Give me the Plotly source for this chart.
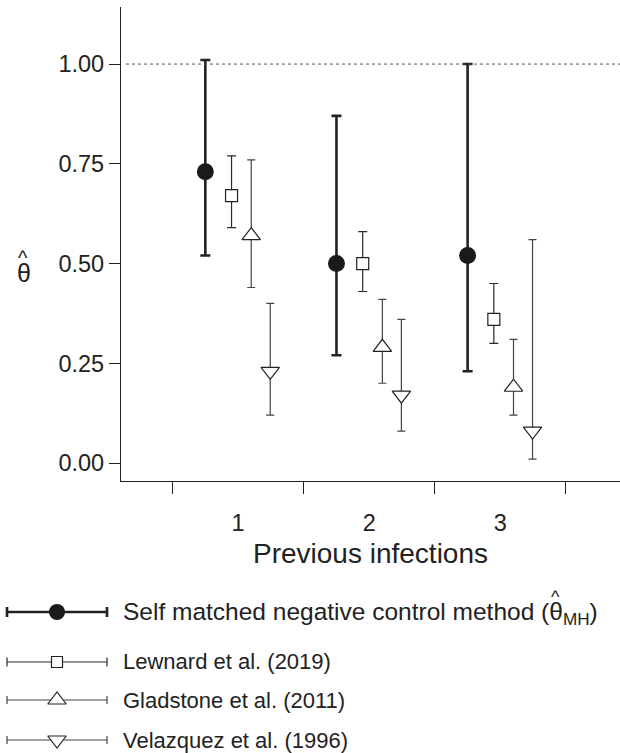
import plotly.graph_objects as go

# ---------------- data ----------------
categories = [1, 2, 3]
x_labels = ["1", "2", "3"]
series_names = [
    "Self matched negative control method",
    "Lewnard et al. (2019)",
    "Gladstone et al. (2011)",
    "Velazquez et al. (1996)",
]
self_est = [0.73, 0.50, 0.52]
self_lo = [0.52, 0.27, 0.23]
self_hi = [1.01, 0.87, 1.00]

lewnard_est = [0.67, 0.50, 0.36]
lewnard_lo = [0.59, 0.43, 0.30]
lewnard_hi = [0.77, 0.58, 0.45]

gladstone_est = [0.57, 0.29, 0.19]
gladstone_lo = [0.44, 0.20, 0.12]
gladstone_hi = [0.76, 0.41, 0.31]

velazquez_est = [0.23, 0.17, 0.08]
velazquez_lo = [0.12, 0.08, 0.01]
velazquez_hi = [0.40, 0.36, 0.56]

y_ticks = [0.0, 0.25, 0.50, 0.75, 1.00]
reference_line = 1.0

# ---------------- styles ----------------
FONT = "Liberation Sans, Arial, Helvetica, sans-serif"
INK = "#222222"
W, H = 620, 753
offsets = [-0.25, -0.05, 0.10, 0.245]
styles = [
    dict(symbol="circle", size=17, color="#1a1a1a", lw=0, thick=2.6, cap=5, ecol="#222222", lsize=16),
    dict(symbol="square", size=12, color="white", lw=1.2, thick=1.2, cap=4.5, ecol="#2a2a2a", lsize=11),
    dict(symbol="triangle-up", size=16, color="white", lw=1.2, thick=1.2, cap=4, ecol="#444444", lsize=16),
    dict(symbol="triangle-down", size=16, color="white", lw=1.2, thick=1.2, cap=4, ecol="#444444", lsize=16),
]
all_series = [
    (self_est, self_lo, self_hi),
    (lewnard_est, lewnard_lo, lewnard_hi),
    (gladstone_est, gladstone_lo, gladstone_hi),
    (velazquez_est, velazquez_lo, velazquez_hi),
]

# plot area in pixels
PL, PR, PT, PB = 121, 620, 7, 481
dom_x = [PL / W, PR / W]
dom_y = [(H - PB) / H, (H - PT) / H]


def py(p):
    """pixel row -> paper y"""
    return (H - p) / H


fig = go.Figure()

for (est, lo, hi), st, off, name in zip(all_series, styles, offsets, series_names):
    fig.add_trace(go.Scatter(
        x=[c + off for c in categories], y=est, mode="markers", name=name,
        marker=dict(symbol=st["symbol"], size=st["size"], color=st["color"],
                    line=dict(color=INK, width=st["lw"])),
        error_y=dict(type="data", symmetric=False,
                     array=[h - e for h, e in zip(hi, est)],
                     arrayminus=[e - l for e, l in zip(est, lo)],
                     thickness=st["thick"], width=st["cap"], color=st["ecol"]),
        xaxis="x", yaxis="y", showlegend=False, cliponaxis=False,
    ))

# ---------------- hand-made legend (pixel-scaled helper axes) ----------------
legend_row_y = [612, 662, 700, 740]
legend_text_y = [613, 661, 700, 740]
legend_font = [24.5, 22, 22, 22]
sample_cx, sample_half = 57, 50
for i, st in enumerate(styles):
    fig.add_trace(go.Scatter(
        x=[sample_cx], y=[legend_row_y[i]], mode="markers",
        marker=dict(symbol=st["symbol"], size=st["lsize"], color=st["color"],
                    line=dict(color=INK, width=st["lw"])),
        error_x=dict(type="constant", value=sample_half, thickness=st["thick"],
                     width=st["cap"], color=st["ecol"]),
        xaxis="x2", yaxis="y2", showlegend=False, cliponaxis=False,
    ))

legend_labels = [
    "Self matched negative control method (θ<sub>MH</sub>)",
    series_names[1], series_names[2], series_names[3],
]
annotations = []
for i, lab in enumerate(legend_labels):
    annotations.append(dict(
        x=121 / W, y=py(legend_text_y[i]), xref="paper", yref="paper", text=lab,
        showarrow=False, xanchor="left", yanchor="middle",
        font=dict(family=FONT, size=legend_font[i], color=INK)))
# hat over theta in legend
annotations.append(dict(x=555 / W, y=py(597), xref="paper", yref="paper", text="^",
                        showarrow=False, xanchor="center", yanchor="middle",
                        font=dict(family=FONT, size=18, color=INK)))
# y-axis title: theta-hat
annotations.append(dict(x=24 / W, y=py(273), xref="paper", yref="paper", text="θ",
                        showarrow=False, xanchor="center", yanchor="middle",
                        font=dict(family=FONT, size=25, color=INK)))
annotations.append(dict(x=23 / W, y=py(258), xref="paper", yref="paper", text="^",
                        showarrow=False, xanchor="center", yanchor="middle",
                        font=dict(family=FONT, size=20, color=INK)))
# x-axis title
annotations.append(dict(x=((PL + PR) / 2) / W, y=py(553), xref="paper", yref="paper",
                        text="Previous infections", showarrow=False,
                        xanchor="center", yanchor="middle",
                        font=dict(family=FONT, size=28, color=INK)))

fig.update_layout(
    width=W, height=H,
    margin=dict(l=0, r=0, t=0, b=0),
    paper_bgcolor="white", plot_bgcolor="white",
    showlegend=False,
    xaxis=dict(domain=dom_x, range=[0.107, 3.912], tickvals=categories, ticktext=x_labels,
               ticks="outside", ticklen=21, tickcolor="rgba(0,0,0,0)",
               minor=dict(tickvals=[c - 0.5 for c in categories] + [categories[-1] + 0.5],
                          ticks="outside", ticklen=12, tickwidth=1.2, tickcolor=INK),
               showline=True, linecolor=INK, linewidth=1.3, showgrid=False, zeroline=False,
               tickfont=dict(family=FONT, size=23.5, color=INK), anchor="y"),
    yaxis=dict(domain=dom_y, range=[-0.045, 1.143], tickvals=y_ticks,
               ticktext=[f"{v:.2f}" for v in y_ticks],
               ticks="outside", ticklen=11, tickwidth=1.2, tickcolor=INK,
               showline=True, linecolor=INK, linewidth=1.3, showgrid=False, zeroline=False,
               tickfont=dict(family=FONT, size=23.5, color=INK), anchor="x"),
    xaxis2=dict(domain=[0, 1], range=[0, W], visible=False, anchor="y2", fixedrange=True),
    yaxis2=dict(domain=[0, dom_y[0]], range=[H, PB], visible=False, anchor="x2", fixedrange=True),
    shapes=[dict(type="line", xref="x domain", yref="y", x0=0.01, x1=1,
                 y0=reference_line, y1=reference_line,
                 line=dict(color="#555555", width=1, dash="dot"))],
    annotations=annotations,
)

fig.write_html("out.html", config={"displayModeBar": False},
               post_script="document.body.style.margin='0px';")
